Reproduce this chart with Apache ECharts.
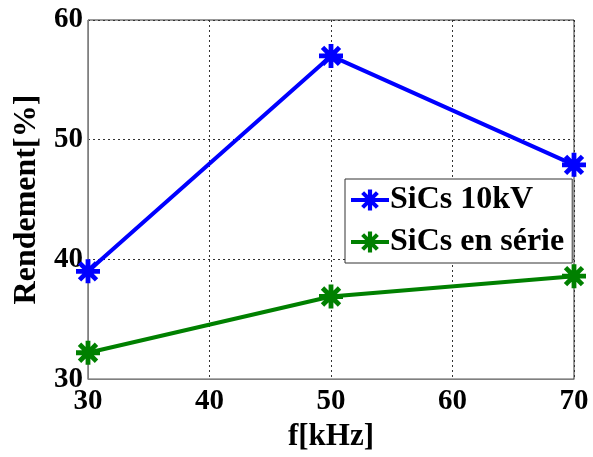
<!DOCTYPE html>
<html>
<head>
<meta charset="utf-8">
<script src="https://cdn.jsdelivr.net/npm/echarts@6/dist/echarts.min.js"></script>
<style>
html,body{margin:0;padding:0;background:#fff;}
#c{width:593px;height:457px;}
</style>
</head>
<body>
<div id="c"></div>
<script>
const freq = [30, 50, 70];
const sic10kV = [39.0, 57.0, 47.9];
const sicSerie = [32.2, 36.9, 38.6];
const seriesNames = ['SiCs 10kV', 'SiCs en série'];
const xTicks = [30, 40, 50, 60, 70];
const yTicks = [30, 40, 50, 60];

// asterisk symbol path (8-pointed)
function asteriskPath() {
  const t = 0.2;
  let d = '';
  [0, 45, 90, 135].forEach(a => {
    const r = a * Math.PI / 180, c = Math.cos(r), s = Math.sin(r);
    const pts = [[-1, -t], [1, -t], [1, t], [-1, t]].map(([x, y]) => [x * c - y * s, x * s + y * c]);
    d += 'M' + pts.map(p => p[0].toFixed(4) + ' ' + p[1].toFixed(4)).join(' L') + ' Z ';
  });
  return 'path://' + d;
}
const star = asteriskPath();
const font = 'Liberation Serif';

const chart = echarts.init(document.getElementById('c'));
chart.setOption({
  animation: false,
  backgroundColor: '#fff',
  grid: { left: 88, top: 20, width: 486, height: 365, show: true, borderColor: '#333', borderWidth: 1, containLabel: false },
  legend: {
    orient: 'vertical',
    left: 345, top: 179,
    padding: [5, 8, 5, 4],
    borderColor: '#333', borderWidth: 1, backgroundColor: '#fff',
    itemWidth: 38, itemHeight: 26, itemGap: 10,
    lineStyle: { width: 4 },
    textStyle: { fontFamily: font, fontWeight: 'bold', fontSize: 32, color: '#000', padding: [0, 0, 0, -4] },
    data: seriesNames
  },
  xAxis: {
    type: 'value', min: 30, max: 70, interval: 10,
    name: 'f[kHz]', nameLocation: 'middle', nameGap: 38,
    nameTextStyle: { fontFamily: font, fontWeight: 'bold', fontSize: 31, color: '#000' },
    axisLine: { show: true, lineStyle: { color: '#808080', width: 1 } },
    axisTick: { show: false },
    axisLabel: { fontFamily: font, fontWeight: 'bold', fontSize: 29, color: '#000', margin: 8,
      formatter: v => xTicks.includes(v) ? String(v) : '' },
    splitLine: { show: true, lineStyle: { color: '#333', type: [2, 3], width: 1 } }
  },
  yAxis: {
    type: 'value', min: 30, max: 60, interval: 10,
    name: 'Rendement[%]', nameLocation: 'middle', nameGap: 40,
    nameTextStyle: { fontFamily: font, fontWeight: 'bold', fontSize: 32, color: '#000' },
    axisLine: { show: true, lineStyle: { color: '#808080', width: 1 } },
    axisTick: { show: false },
    axisLabel: { fontFamily: font, fontWeight: 'bold', fontSize: 29, color: '#000', margin: 5,
      formatter: v => yTicks.includes(v) ? String(v) : '' },
    splitLine: { show: true, lineStyle: { color: '#333', type: [2, 3], width: 1 } }
  },
  series: [
    { name: seriesNames[0], type: 'line', data: freq.map((f, i) => [f, sic10kV[i]]),
      color: '#0000ff', lineStyle: { width: 4, color: '#0000ff' },
      symbol: star, symbolSize: 24, itemStyle: { color: '#0000ff' }, z: 3 },
    { name: seriesNames[1], type: 'line', data: freq.map((f, i) => [f, sicSerie[i]]),
      color: '#008000', lineStyle: { width: 4, color: '#008000' },
      symbol: star, symbolSize: 24, itemStyle: { color: '#008000' }, z: 3 }
  ]
});
</script>
</body>
</html>
